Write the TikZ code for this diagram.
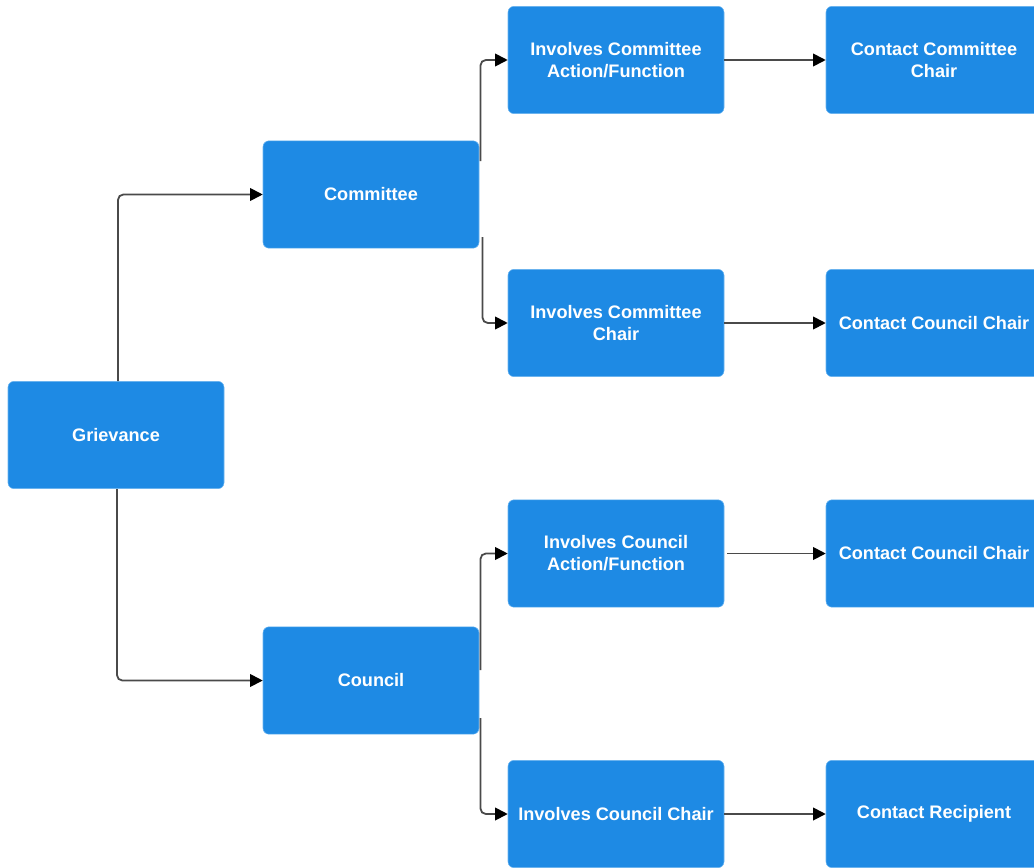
\documentclass[tikz,border=0pt]{standalone}
\usepackage{fontspec}
\setmainfont{Liberation Sans}
\usetikzlibrary{arrows.meta}
\definecolor{boxblue}{HTML}{1E8AE4}
\definecolor{boxedge}{HTML}{6AB4F0}
\definecolor{linegray}{HTML}{4A4A4A}
\tikzset{
  box/.style={rectangle, rounded corners=4.5pt, fill=boxblue, draw=boxedge, line width=0.4pt,
    minimum width=162pt, minimum height=80.5pt, inner sep=0pt, align=center,
    text=white, font=\fontsize{13.6pt}{16.5pt}\selectfont\bfseries},
  conn/.style={draw=linegray, line width=1.35pt, rounded corners=4pt,
    -{Triangle[length=9.5pt,width=9.5pt,fill=black,color=black]}},
}
\begin{document}
\begin{tikzpicture}[x=0.75pt,y=-0.75pt]
\useasboundingbox (0,0) rectangle (1034,867);
\node[box] (G)  at (116,435)   {Grievance};
\node[box] (Cm) at (371,194.5) {Committee};
\node[box] (Co) at (371,680.5) {Council};
\node[box] (A1) at (616,60)    {Involves Committee\\Action/Function};
\node[box] (A2) at (616,323)   {Involves Committee\\Chair};
\node[box] (A3) at (616,553.5) {Involves Council\\Action/Function};
\node[box] (A4) at (616,814)   {Involves Council Chair};
\node[box] (B1) at (934,60)    {Contact Committee\\Chair};
\node[box] (B2) at (934,323)   {Contact Council Chair};
\node[box] (B3) at (934,553.5) {Contact Council Chair};
\node[box] (B4) at (934,814)   {Contact Recipient};
\coordinate (c1) at (480.5,161);
\coordinate (c2) at (482.5,237);
\coordinate (c3) at (480.5,670);
\coordinate (c4) at (480.5,718);
\coordinate (g1) at (118,381);
\coordinate (g2) at (117,489);
\draw[conn] (g1) |- (Cm.west);
\draw[conn] (g2) |- (Co.west);
\draw[conn] (c1) |- (A1.west);
\draw[conn] (c2) |- (A2.west);
\draw[conn] (c3) |- (A3.west);
\draw[conn] (c4) |- (A4.west);
\draw[conn] (A1.east) -- (B1.west);
\draw[conn] (A2.east) -- (B2.west);
\draw[conn] ([xshift=2.25pt]A3.east) -- (B3.west);
\draw[conn] (A4.east) -- (B4.west);
\end{tikzpicture}
\end{document}
